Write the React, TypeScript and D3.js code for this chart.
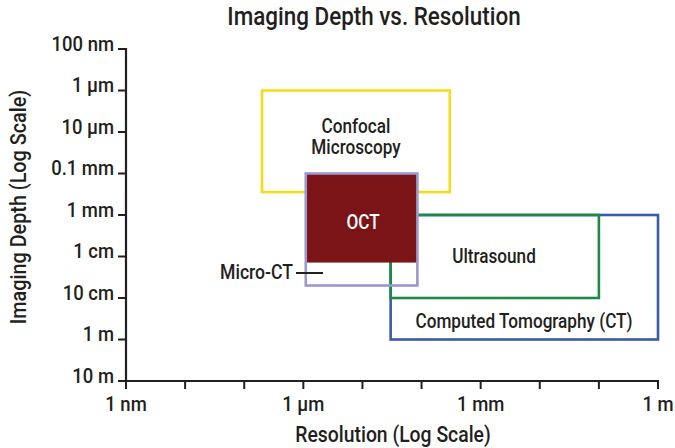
import React from "react";
import * as d3 from "d3";

const W = 675;
const H = 448;

const yTickValues = [1e-7, 1e-6, 1e-5, 1e-4, 1e-3, 1e-2, 1e-1, 1, 10];
const yTickLabels = ["100 nm", "1 µm", "10 µm", "0.1 mm", "1 mm", "1 cm", "10 cm", "1 m", "10 m"];
const xTickValues = [1e-9, 1e-8, 1e-7, 1e-6, 1e-5, 1e-4, 1e-3, 1e-2, 1e-1, 1];
const xTickLabels = ["1 nm", "", "", "1 µm", "", "", "1 mm", "", "", "1 m"];

// modality boxes: resolution range (x, meters), depth range (y, meters)
const boxNames = ["Confocal", "Micro-CT", "OCT", "Ultrasound", "CT"];
const boxResMin = [2e-7, 1.1e-6, 1.1e-6, 3e-5, 3e-5];
const boxResMax = [3e-4, 8.5e-5, 8.5e-5, 1e-1, 1];
const boxDepthMin = [1e-6, 1e-4, 1e-4, 1e-3, 1e-3];
const boxDepthMax = [2.8e-4, 5e-2, 1.4e-2, 1e-1, 1];
const boxStroke = ["#f7dc1e", "#9a98cc", "none", "#1d8a45", "#3b5ba9"];
const boxFill = ["none", "none", "#7b1416", "none", "none"];

const FONT = "Roboto, 'Liberation Sans', sans-serif";
const TXT = "#231f20";
const SX = 0.88;

function T({ x, y, size, anchor = "middle", fill = TXT, rotate = 0, sx = SX, children }: any) {
  return (
    <text
      transform={`translate(${x},${y}) rotate(${rotate}) scale(${sx},1)`}
      textAnchor={anchor}
      fontSize={size}
      fontWeight={500}
      fill={fill}
    >
      {children}
    </text>
  );
}

export default function App() {
  const x = d3.scaleLog().domain([1e-9, 1]).range([126, 658]);
  const y = d3.scaleLog().domain([1e-7, 10]).range([49, 381]);

  // draw order: confocal, CT, ultrasound, OCT fill, micro-CT outline
  const order = [0, 4, 3, 2, 1];

  return (
    <svg width={W} height={H} style={{ position: "absolute", left: 0, top: 0, background: "#fff" }} fontFamily={FONT}>
      <T x={374} y={25} size={25.5}>Imaging Depth vs. Resolution</T>

      {order.map((i) => {
        const x0 = x(boxResMin[i]);
        const x1 = x(boxResMax[i]);
        const y0 = y(boxDepthMin[i]);
        const y1 = y(boxDepthMax[i]);
        if (boxFill[i] !== "none") {
          return <rect key={i} x={x0} y={y0} width={x1 - x0} height={y1 - y0} fill={boxFill[i]} />;
        }
        return (
          <rect key={i} x={x0} y={y0} width={x1 - x0} height={y1 - y0} fill="none" stroke={boxStroke[i]} strokeWidth={2.6} />
        );
      })}

      <T x={356} y={133} size={19.5}>Confocal</T>
      <T x={356} y={154} size={19.5}>Microscopy</T>
      <T x={363} y={229} size={19.5} fill="#fff">OCT</T>
      <T x={494} y={263} size={19.5}>Ultrasound</T>
      <T x={524} y={328} size={19.5}>Computed Tomography (CT)</T>
      <T x={293} y={279} size={20} anchor="end">Micro-CT</T>
      <line x1={296} x2={323} y1={273} y2={273} stroke={TXT} strokeWidth={2} />

      {/* y axis */}
      <line x1={126} x2={126} y1={48} y2={382} stroke={TXT} strokeWidth={2.2} />
      {yTickValues.map((v, i) => (
        <g key={i}>
          <line x1={118} x2={126} y1={y(v)} y2={y(v)} stroke={TXT} strokeWidth={2} />
          <T x={114} y={y(v) + 1.5} size={20.5} anchor="end" sx={0.9}>{yTickLabels[i]}</T>
        </g>
      ))}
      {/* x axis */}
      <line x1={125} x2={659} y1={381} y2={381} stroke={TXT} strokeWidth={2.2} />
      {xTickValues.map((v, i) => (
        <g key={i}>
          <line x1={x(v)} x2={x(v)} y1={381} y2={389} stroke={TXT} strokeWidth={2} />
          <T x={x(v)} y={411} size={20.5} sx={0.9}>{xTickLabels[i]}</T>
        </g>
      ))}

      <T x={393} y={442} size={22}>Resolution (Log Scale)</T>
      <T x={26} y={207} size={22.5} rotate={-90}>Imaging Depth (Log Scale)</T>
    </svg>
  );
}
